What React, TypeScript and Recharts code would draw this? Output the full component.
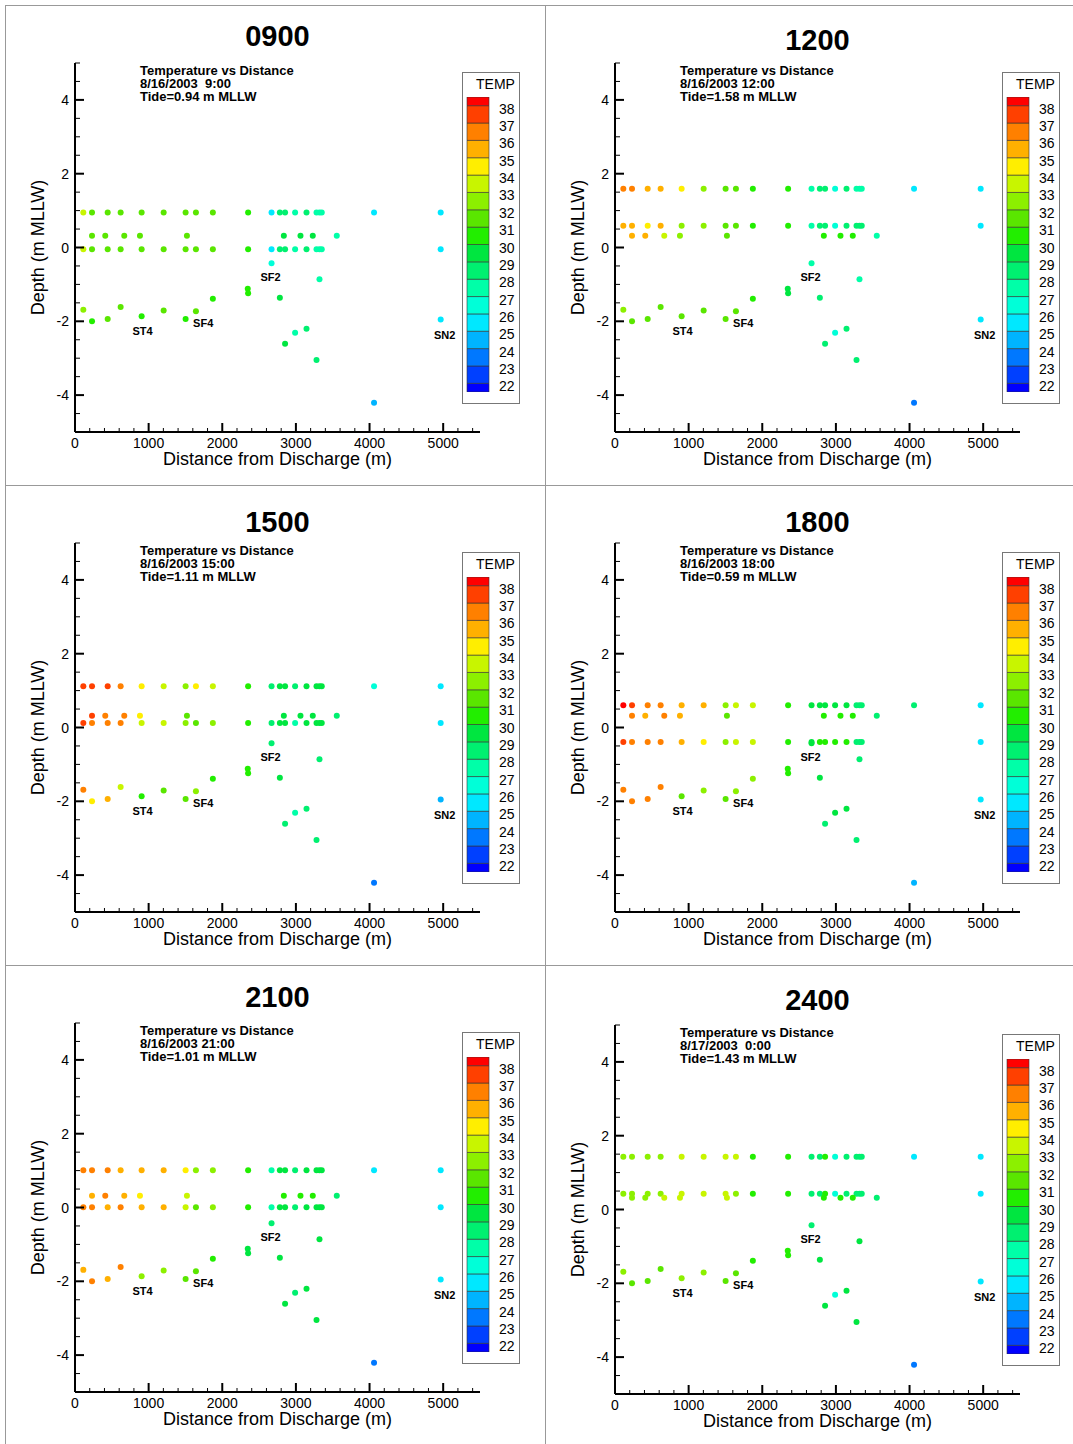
import React from 'react';
import { ScatterChart, Scatter, XAxis, YAxis, BarChart, Bar } from 'recharts';

const FONT = '"Liberation Sans", Arial, Helvetica, sans-serif';

// station positions along the transect (m from discharge)
const surfaceX = [113, 231, 444, 620, 905, 1204, 1502, 1642, 1872, 2351, 2669, 2782, 2853, 2989, 3144, 3280, 3320, 3351, 4061, 4966];
const subX = [113, 231, 444, 620, 905, 1204, 1502, 1642, 1872, 2351, 2669, 2782, 2853, 2989, 3144, 3280, 3320, 3351, 4966];
const midX = [231, 411, 669, 882, 1520, 2836, 3062, 3229, 3555];
const midDepth = 0.32;
const bottomX = [113, 231, 444, 620, 905, 1204, 1502, 1642, 1872, 2346, 2351, 2669, 2782, 2853, 2989, 3144, 3280, 3320, 4061, 4966];
const bottomDepth = [-1.69, -2.0, -1.94, -1.61, -1.86, -1.71, -1.94, -1.73, -1.39, -1.12, -1.24, -0.43, -1.36, -2.61, -2.31, -2.2, -3.05, -0.86, -4.21, -1.95];

const panelNames = ['0900', '1200', '1500', '1800', '2100', '2400'];
const panelDates = ['8/16/2003  9:00', '8/16/2003 12:00', '8/16/2003 15:00', '8/16/2003 18:00', '8/16/2003 21:00', '8/17/2003  0:00'];
const panelTides = ['Tide=0.94 m MLLW', 'Tide=1.58 m MLLW', 'Tide=1.11 m MLLW', 'Tide=0.59 m MLLW', 'Tide=1.01 m MLLW', 'Tide=1.43 m MLLW'];
const surfaceDepths = [0.95, 1.59, 1.12, 0.6, 1.01, 1.43];
const subDepths = [-0.05, 0.59, 0.12, -0.39, 0.01, 0.43];

// temperatures (deg C)
const surfT0900 = [33, 31, 31, 31, 31, 31, 31, 31, 31, 30, 25.5, 28.5, 28.5, 27.5, 28.5, 27.5, 27.5, 27.5, 25.5, 25.5];
const subT0900 = [33, 31, 31, 31, 31, 31, 31, 31, 31, 30, 25.5, 28.5, 28.5, 27.5, 28.5, 27.5, 27.5, 27.5, 25.5];
const midT0900 = [31, 31, 31, 31, 31, 29.5, 29.5, 29.5, 27.5];
const botT0900 = [32, 30.5, 31, 31, 30.5, 31, 30.5, 31, 30.5, 30, 30, 26.5, 29, 29, 27.5, 28.5, 28.5, 27.5, 24.5, 25.5];

const surfT1200 = [36.5, 36.5, 35.5, 35.5, 34.5, 32.5, 31.5, 31, 30.5, 30, 27.5, 28.5, 28.5, 26.5, 28.5, 27.5, 27.5, 27.5, 25.5, 25.5];
const subT1200 = [35.5, 35.5, 34.5, 35.5, 32.5, 32, 31, 31, 30.5, 30, 27.5, 28.5, 28.5, 26.5, 28.5, 28, 28, 28, 25.5];
const midT1200 = [35.5, 35.5, 33.5, 32, 31, 30, 30, 30, 27.5];
const botT1200 = [32.5, 31.5, 31.5, 31.5, 31, 31, 31, 31, 30.5, 29.5, 29.5, 27.5, 28.5, 28.5, 26, 28, 28.5, 27.5, 23.5, 25.5];

const surfT1500 = [37.5, 37.5, 37.5, 36.5, 34.5, 33.5, 32.5, 34.5, 33, 30, 28.5, 29.5, 29.5, 28.5, 29.5, 29.5, 29.5, 29.5, 26, 25.5];
const subT1500 = [37.5, 36.5, 36.5, 36.5, 33, 33.5, 32, 31.5, 32, 30, 28.5, 29.5, 29.5, 27.5, 29.5, 29.5, 29.5, 29.5, 25];
const midT1500 = [37, 36.5, 36.5, 34.5, 31.5, 29.5, 29.5, 29.5, 28.5];
const botT1500 = [36, 34.5, 35.5, 33, 30.5, 31.5, 31, 32, 30.5, 30, 30, 28.5, 29.5, 28.5, 27.5, 28.5, 28.5, 28.5, 23.5, 24.5];

const surfT1800 = [38.5, 37.5, 36.5, 36.5, 35.5, 35.5, 32.5, 33, 33.5, 30.5, 29.5, 29.5, 29.5, 29.5, 29.5, 28.5, 28.5, 28.5, 28.5, 25.5];
const subT1800 = [37.5, 36.5, 36.5, 36.5, 35.5, 34.5, 32.5, 33, 33.5, 30, 29.5, 30, 30, 30, 30, 28.5, 28.5, 28.5, 25.5];
const midT1800 = [36, 35.5, 36.5, 35.5, 31.5, 30, 30, 30, 28.5];
const botT1800 = [36.5, 36.5, 36.5, 36.5, 31.5, 32, 31.5, 32.5, 32, 30, 30, 29.5, 29.5, 28.5, 29.5, 29.5, 28.5, 28.5, 24.5, 25.5];

const surfT2100 = [36.5, 36.5, 36.5, 35.5, 35.5, 35.5, 34.5, 32, 32, 30.5, 27.5, 29.5, 29.5, 28.5, 29.5, 29.5, 29.5, 29.5, 25.5, 25.5];
const subT2100 = [36, 36.5, 35.5, 36.5, 35.5, 35.5, 33.5, 31.5, 32, 30.5, 27.5, 29.5, 29.5, 28.5, 29.5, 29.5, 29.5, 29.5, 25.5];
const midT2100 = [35.5, 36.5, 35.5, 34.5, 33.5, 30.5, 30.5, 30.5, 28.5];
const botT2100 = [35.5, 36.5, 35.5, 36.5, 32, 32, 31.5, 31, 30.5, 29.5, 29.5, 28.5, 29.5, 29.5, 28.5, 29.5, 29.5, 29.5, 23.5, 25.5];

const surfT2400 = [32.5, 32.5, 32.5, 32.5, 33.5, 33.5, 33.5, 33, 30.5, 30, 28.5, 28.5, 30, 26, 28.5, 28.5, 28.5, 28.5, 25.5, 25.5];
const subT2400 = [32.5, 32.5, 32.5, 32.5, 33, 33, 33, 32.5, 30.5, 30, 28.5, 28.5, 30, 26, 28.5, 28.5, 28.5, 28.5, 25.5];
const midT2400 = [32.5, 32.5, 33, 33, 33, 30, 30, 30, 28.5];
const botT2400 = [32.5, 31.5, 31.5, 31.5, 32, 32, 31.5, 31.5, 30.5, 30, 30, 28.5, 29.5, 29.5, 26, 29.5, 29.5, 29.5, 23, 25.5];

const surfT = [surfT0900, surfT1200, surfT1500, surfT1800, surfT2100, surfT2400];
const subT = [subT0900, subT1200, subT1500, subT1800, subT2100, subT2400];
const midT = [midT0900, midT1200, midT1500, midT1800, midT2100, midT2400];
const botT = [botT0900, botT1200, botT1500, botT1800, botT2100, botT2400];

const stationNames = ['ST4', 'SF4', 'SF2', 'SN2'];
const stationLabelX = [918, 1741, 2655, 5020];
const stationLabelY = [-2.26, -2.04, -0.79, -2.38];

// axes
const xMajor = [0, 1000, 2000, 3000, 4000, 5000];
const xTicks = [0, 200, 400, 600, 800, 1000, 1200, 1400, 1600, 1800, 2000, 2200, 2400, 2600, 2800, 3000, 3200, 3400, 3600, 3800, 4000, 4200, 4400, 4600, 4800, 5000, 5200, 5400];
const yMajor = [-4, -2, 0, 2, 4];
const yTicks = [-4.5, -4, -3.5, -3, -2.5, -2, -1.5, -1, -0.5, 0, 0.5, 1, 1.5, 2, 2.5, 3, 3.5, 4, 4.5, 5];

// colour legend
const tempLevels = [22, 23, 24, 25, 26, 27, 28, 29, 30, 31, 32, 33, 34, 35, 36, 37, 38];
const bandColors = ['#0000ff', '#0040ff', '#0078ff', '#00b4ff', '#00e8ff', '#00ffd8', '#00ffa8', '#00f070', '#00e640', '#22ee00', '#5ae600', '#8cf000', '#c8f500', '#ffee00', '#ffb000', '#ff8000', '#ff4000', '#ff0000'];

const panelShift = [0, 0, 0, 0, 0, 2];
const titleTop = [31, 35, 37, 37, 32, 33];

const tempColor = (t: number) => {
  if (t < tempLevels[0]) return bandColors[0];
  if (t >= tempLevels[tempLevels.length - 1]) return bandColors[bandColors.length - 1];
  return bandColors[1 + Math.floor(t - tempLevels[0])];
};

const edges = [21.5, ...tempLevels, 38.5];
const bandRow: Record<string, number | string> = { name: 'TEMP', base: edges[0] };
bandColors.forEach((_, k) => {
  bandRow[`b${k}`] = edges[k + 1] - edges[k];
});

const YTick = (props: any) => {
  const { x, y, payload } = props;
  const major = yMajor.includes(payload.value);
  return (
    <g>
      <line x1={x} x2={x + (major ? 9 : 5)} y1={y} y2={y} stroke="#000" strokeWidth={major ? 2 : 1} />
      {major && (
        <text x={x - 6} y={y} dy={5} textAnchor="end" fontSize={14} fontFamily={FONT} fill="#000">
          {payload.value}
        </text>
      )}
    </g>
  );
};

const XTick = (props: any) => {
  const { x, y, payload } = props;
  const major = xMajor.includes(payload.value);
  return (
    <g>
      <line x1={x} x2={x} y1={y} y2={y - (major ? 9 : 4)} stroke="#000" strokeWidth={major ? 2 : 1} />
      {major && (
        <text x={x} y={y} dy={16} textAnchor="middle" fontSize={14} fontFamily={FONT} fill="#000">
          {payload.value}
        </text>
      )}
    </g>
  );
};

const LegendTick = (props: any) => {
  const { x, y, payload } = props;
  return (
    <text x={x + 10} y={y} dy={8} fontSize={14} fontFamily={FONT} fill="#000">
      {payload.value}
    </text>
  );
};

const TempDot = (p: any) => <circle cx={p.cx} cy={p.cy} r={3} fill={tempColor(p.payload.t)} />;

const StationText = (p: any) => (
  <text x={p.cx} y={p.cy} dy={4} textAnchor="middle" fontSize={11} fontWeight="bold" fontFamily={FONT} fill="#000">
    {p.payload.name}
  </text>
);

function Panel({ i }: { i: number }) {
  const left = 5 + (i % 2) * 540;
  const top = 5 + Math.floor(i / 2) * 480 + panelShift[i];

  const surf = surfaceX.map((x, k) => ({ x, y: surfaceDepths[i], t: surfT[i][k] }));
  const sub = subX.map((x, k) => ({ x, y: subDepths[i], t: subT[i][k] }));
  const mid = midX.map((x, k) => ({ x, y: midDepth, t: midT[i][k] }));
  const bot = bottomX.map((x, k) => ({ x, y: bottomDepth[k], t: botT[i][k] }));
  const labels = stationNames.map((name, k) => ({ x: stationLabelX[k], y: stationLabelY[k], name }));

  return (
    <div style={{ position: 'absolute', left, top, width: 540, height: 480 }}>
      <div style={{ position: 'absolute', left: 0, top: 0 }}>
        <ScatterChart width={540} height={480} margin={{ top: 58, right: 65, bottom: 23, left: 0 }}>
          <XAxis
            type="number"
            dataKey="x"
            domain={[0, 5500]}
            ticks={xTicks}
            interval={0}
            height={30}
            axisLine={{ stroke: '#000', strokeWidth: 2 }}
            tickLine={false}
            tickSize={0}
            tickMargin={0}
            tick={<XTick />}
            label={{ value: 'Distance from Discharge (m)', position: 'insideBottom', offset: -3, fontSize: 18, fontFamily: FONT, fill: '#000' }}
          />
          <YAxis
            type="number"
            dataKey="y"
            domain={[-5, 5]}
            ticks={yTicks}
            interval={0}
            width={70}
            axisLine={{ stroke: '#000', strokeWidth: 2 }}
            tickLine={false}
            tickSize={0}
            tickMargin={0}
            tick={<YTick />}
            label={{ value: 'Depth (m MLLW)', angle: -90, position: 'insideLeft', offset: 33, fontSize: 18, fontFamily: FONT, fill: '#000', style: { textAnchor: 'middle' } }}
          />
          <Scatter data={bot} shape={<TempDot />} isAnimationActive={false} />
          <Scatter data={sub} shape={<TempDot />} isAnimationActive={false} />
          <Scatter data={mid} shape={<TempDot />} isAnimationActive={false} />
          <Scatter data={surf} shape={<TempDot />} isAnimationActive={false} />
          <Scatter data={labels} shape={<StationText />} isAnimationActive={false} />
        </ScatterChart>
      </div>

      <div
        style={{
          position: 'absolute',
          left: 70,
          width: 405,
          top: titleTop[i] - 15,
          textAlign: 'center',
          fontFamily: FONT,
          fontWeight: 'bold',
          fontSize: 29,
          lineHeight: '30px',
        }}
      >
        {panelNames[i]}
      </div>

      <div
        style={{
          position: 'absolute',
          left: 135,
          top: 59,
          fontFamily: FONT,
          fontWeight: 'bold',
          fontSize: 13,
          lineHeight: '13px',
          whiteSpace: 'pre',
        }}
      >
        <div>Temperature vs Distance</div>
        <div>{panelDates[i]}</div>
        <div>{panelTides[i]}</div>
      </div>

      <div
        style={{
          position: 'absolute',
          left: 457,
          top: 67,
          width: 58,
          height: 332,
          border: '1px solid #777',
          boxSizing: 'border-box',
          background: '#fff',
        }}
      >
        <div style={{ position: 'absolute', left: 13, top: 3, fontFamily: FONT, fontSize: 14, lineHeight: '16px' }}>TEMP</div>
        <div style={{ position: 'absolute', left: 0, top: 0 }}>
          <BarChart width={56} height={330} data={[bandRow]} margin={{ top: 24, right: 0, bottom: 11, left: 4 }} barCategoryGap={0}>
            <XAxis dataKey="name" hide />
            <YAxis
              orientation="right"
              type="number"
              domain={[21.5, 38.5]}
              allowDataOverflow
              ticks={tempLevels}
              interval={0}
              width={30}
              axisLine={false}
              tickLine={false}
              tickSize={0}
              tickMargin={0}
              tick={<LegendTick />}
            />
            <Bar dataKey="base" stackId="c" fill="none" isAnimationActive={false} />
            {bandColors.map((c, k) => (
              <Bar key={k} dataKey={`b${k}`} stackId="c" fill={c} stroke="#333" strokeWidth={0.6} isAnimationActive={false} />
            ))}
          </BarChart>
        </div>
      </div>
    </div>
  );
}

export default function App() {
  const line = '#999';
  return (
    <div style={{ position: 'absolute', left: 0, top: 0, width: 1073, height: 1444, overflow: 'hidden', background: '#fff' }}>
      {panelNames.map((_, i) => (
        <Panel key={i} i={i} />
      ))}
      <div style={{ position: 'absolute', left: 5, top: 5, width: 1, height: 1439, background: line }} />
      <div style={{ position: 'absolute', left: 545, top: 5, width: 1, height: 1439, background: line }} />
      <div style={{ position: 'absolute', left: 5, top: 5, width: 1068, height: 1, background: line }} />
      <div style={{ position: 'absolute', left: 5, top: 485, width: 1068, height: 1, background: line }} />
      <div style={{ position: 'absolute', left: 5, top: 965, width: 1068, height: 1, background: line }} />
    </div>
  );
}
